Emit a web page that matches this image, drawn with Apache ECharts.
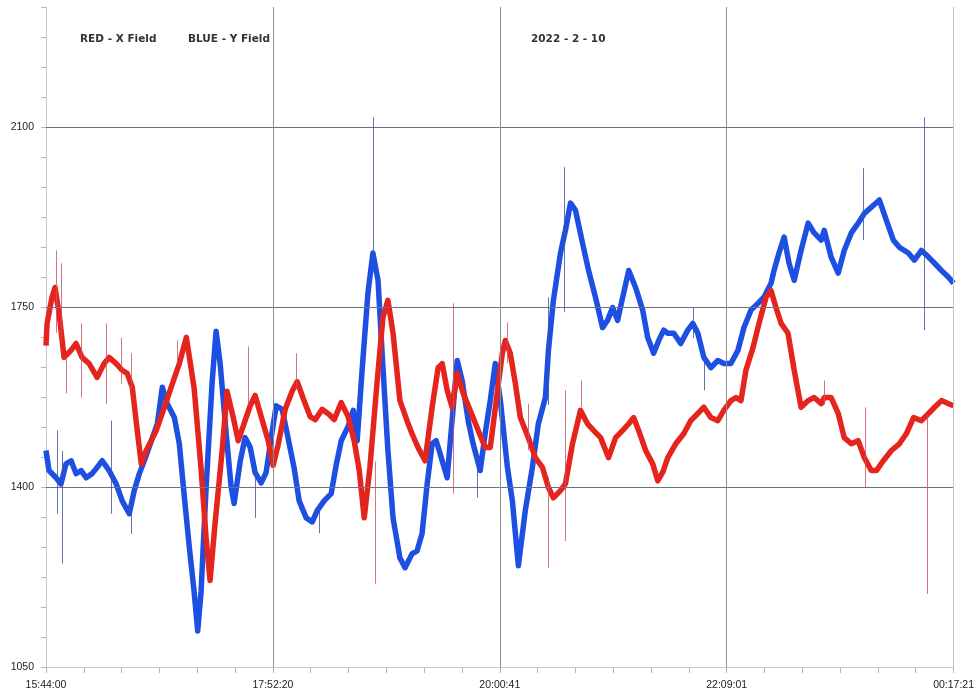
<!DOCTYPE html>
<html>
<head>
<meta charset="utf-8">
<script src="https://cdn.jsdelivr.net/npm/echarts@6/dist/echarts.min.js"></script>
<style>
  html, body { margin: 0; padding: 0; background: #ffffff; }
  #chart { width: 977px; height: 694px; }
</style>
</head>
<body>
<div id="chart"></div>
<script>
// Magnetometer record, 2022-2-10, 15:44:00 -> 00:17:21 next day
const startSeconds = 15 * 3600 + 44 * 60;
const spanSeconds = 30801;
const xTickLabels = ['15:44:00', '17:52:20', '20:00:41', '22:09:01', '00:17:21'];
const yTickLabels = [1050, 1400, 1750, 2100];
const yStep = 350;
const yMinorPerMajor = 6;
const yMinorCount = 22;
const xMinorPerMajor = 6;
const gridValues = [1400, 1750, 2100];

// [minutes after 15:44:00, field value]
const xField = [
  [0,1675],[0.6,1718],[3.4,1769],[5.1,1788],[7.4,1738],[10.2,1652],[14.2,1666],[17.0,1679],
  [20.4,1652],[24.4,1640],[28.9,1613],[32.9,1640],[35.7,1652],[39.7,1640],[43.1,1627],[45.9,1621],
  [48.8,1594],[51.6,1510],[53.9,1445],[56.7,1471],[62.4,1510],[66.9,1555],[71.5,1601],[75.4,1640],
  [79.4,1691],[83.8,1592],[87.7,1436],[90.6,1299],[92.8,1218],[95.7,1332],[99.6,1469],[102.4,1586],
  [105.8,1537],[108.7,1490],[111.5,1518],[115.5,1558],[118.3,1578],[121.7,1537],[125.7,1490],[128.5,1442],
  [131.3,1482],[135.3,1551],[139.2,1586],[142.1,1605],[145.5,1572],[149.4,1537],[152.3,1531],[156.2,1551],
  [160.2,1541],[163.0,1531],[167.0,1564],[170.9,1537],[174.3,1490],[177.2,1432],[180.0,1340],[183.2,1438],
  [187.2,1601],[190.6,1730],[193.4,1763],[196.3,1699],[200.2,1568],[204.2,1529],[207.0,1504],[210.4,1477],
  [214.4,1451],[218.4,1555],[221.8,1632],[224.1,1640],[226.9,1588],[229.7,1555],[232.6,1621],[236.0,1582],
  [239.9,1549],[244.5,1510],[248.4,1477],[251.3,1477],[255.2,1582],[258.1,1660],[259.8,1685],[262.6,1660],
  [265.5,1601],[268.3,1535],[272.8,1496],[276.8,1457],[280.8,1438],[284.2,1399],[287.0,1379],[291.0,1393],
  [293.8,1406],[297.8,1484],[302.3,1549],[306.3,1523],[309.7,1510],[313.7,1496],[318.2,1457],[322.2,1496],
  [326.2,1510],[329.6,1523],[332.4,1535],[335.2,1510],[339.2,1471],[343.2,1445],[346.0,1412],[349.0,1430],
  [351.7,1457],[356.2,1484],[360.8,1504],[364.7,1529],[368.7,1543],[372.1,1555],[376.1,1535],[380.0,1529],
  [383.4,1549],[387.4,1568],[390.3,1574],[393.1,1568],[395.9,1627],[399.9,1671],[403.3,1718],[407.3,1769],
  [410.1,1782],[412.9,1749],[415.8,1718],[419.7,1699],[423.2,1627],[427.1,1555],[431.1,1568],[434.5,1574],
  [438.5,1562],[440.2,1574],[444.1,1574],[448.1,1543],[451.5,1496],[455.5,1484],[459.4,1490],[462.9,1457],
  [466.8,1432],[469.7,1432],[473.6,1451],[478.2,1471],[482.7,1484],[486.7,1504],[490.7,1535],[495.2,1529],
  [499.2,1543],[502.6,1555],[506.5,1568],[510.5,1562],[513.35,1558]
];

const yField = [
  [0,1471],[1.7,1432],[5.7,1418],[8.5,1406],[11.3,1445],[14.2,1451],[17.0,1426],[19.9,1432],
  [22.7,1418],[26.1,1426],[28.9,1438],[31.8,1451],[35.7,1432],[39.7,1406],[43.1,1373],[47.1,1348],
  [49.9,1393],[52.8,1426],[55.6,1451],[59.6,1490],[63.0,1523],[65.8,1594],[68.6,1562],[72.6,1535],
  [75.4,1484],[78.3,1379],[81.1,1282],[83.8,1196],[85.8,1120],[87.7,1196],[90.6,1401],[94.0,1605],
  [96.2,1703],[98.5,1640],[101.9,1504],[104.7,1401],[106.4,1368],[109.8,1449],[112.6,1496],[115.5,1477],
  [118.3,1428],[121.7,1408],[124.5,1428],[127.4,1496],[130.2,1558],[133.6,1551],[136.4,1504],[140.4,1436],
  [143.2,1373],[147.2,1340],[150.6,1332],[153.4,1354],[157.3,1373],[161.3,1387],[164.1,1442],[167.0,1490],
  [170.9,1518],[173.8,1549],[176.0,1490],[178.9,1632],[182.1,1777],[184.9,1855],[187.8,1802],[190.6,1632],
  [193.4,1471],[196.3,1340],[200.2,1262],[203.1,1243],[207.0,1270],[209.9,1276],[212.7,1309],[215.6,1406],
  [218.4,1484],[220.7,1490],[222.9,1465],[226.9,1418],[229.7,1529],[232.6,1646],[235.4,1607],[238.8,1529],
  [241.6,1484],[245.6,1432],[248.4,1504],[251.3,1568],[254.1,1640],[257.0,1568],[261.0,1438],[263.8,1373],
  [267.2,1247],[271.1,1354],[275.1,1438],[278.5,1523],[282.5,1574],[284.2,1666],[287.0,1763],[291.0,1855],
  [293.8,1899],[296.7,1952],[299.5,1938],[303.5,1874],[306.9,1821],[310.8,1769],[314.8,1710],[317.6,1724],
  [320.5,1749],[323.3,1724],[326.2,1769],[329.6,1821],[333.5,1788],[337.5,1744],[340.3,1691],[343.7,1660],
  [346.6,1685],[349.4,1705],[351.7,1699],[355.1,1699],[359.0,1679],[363.0,1705],[365.9,1718],[368.7,1699],
  [372.1,1652],[376.1,1632],[380.0,1646],[383.4,1640],[387.4,1640],[391.4,1666],[394.8,1710],[398.8,1744],
  [402.7,1757],[406.1,1769],[410.1,1796],[411.8,1821],[414.6,1855],[417.5,1886],[420.3,1835],[423.2,1802],
  [427.1,1860],[431.1,1913],[434.5,1894],[438.5,1880],[440.2,1899],[444.1,1847],[448.1,1816],[451.5,1860],
  [455.5,1894],[459.4,1913],[462.9,1932],[466.8,1944],[471.4,1958],[475.3,1919],[479.3,1880],[482.7,1866],
  [487.8,1855],[491.2,1841],[495.2,1860],[499.2,1847],[502.6,1835],[506.5,1821],[510.5,1808],[513.35,1796]
];

// Short transients: [minutes, low, high]
const xSpikes = [
  [5.7,1700,1860],[8.5,1680,1835],[11.3,1582,1650],[19.9,1574,1718],[34.0,1562,1718],[42.5,1600,1690],
  [48.2,1590,1660],[74.3,1640,1685],[114.6,1560,1673],[141.8,1590,1660],[186.1,1212,1450],[230.2,1387,1757],
  [261.0,1640,1720],[272.8,1471,1562],[284.2,1243,1420],[293.8,1295,1588],[302.9,1555,1607],[440.2,1560,1607],
  [463.5,1399,1555],[498.6,1192,1540]
];
const ySpikes = [
  [6.2,1348,1510],[9.1,1251,1470],[36.9,1348,1529],[48.2,1309,1380],[118.3,1340,1430],[154.8,1310,1360],
  [184.9,1850,2119],[243.9,1379,1465],[284.0,1560,1769],[293.2,1740,2022],[365.9,1690,1750],[372.1,1588,1652],
  [462.3,1880,2020],[496.9,1705,2119]
];

const toSeconds = pts => pts.map(p => [p[0] * 60, p[1]]);
const spikeLines = list => list.map(s => [{ coord: [s[0] * 60, s[1]] }, { coord: [s[0] * 60, s[2]] }]);

const xInterval = spanSeconds / ((xTickLabels.length - 1) * xMinorPerMajor);
const yInterval = yStep / yMinorPerMajor;
const yMax = yTickLabels[0] + yMinorCount * yInterval;

const chart = echarts.init(document.getElementById('chart'), null, { renderer: 'canvas' });
chart.setOption({
  animation: false,
  backgroundColor: '#ffffff',
  grid: { left: 46, right: 23, top: 7, bottom: 27 },
  xAxis: {
    type: 'value', min: 0, max: spanSeconds, interval: xInterval,
    axisLine: { lineStyle: { color: '#c8c8c8', width: 1 } },
    axisTick: { length: 6, lineStyle: { color: '#b5b5b5' } },
    splitLine: { show: false },
    axisLabel: {
      margin: 13, fontSize: 10.5, color: '#222', fontFamily: 'Liberation Sans',
      formatter: v => {
        const k = v / (xInterval * xMinorPerMajor);
        const i = Math.round(k);
        return Math.abs(k - i) < 1e-6 ? xTickLabels[i] : '';
      }
    }
  },
  yAxis: {
    type: 'value', min: yTickLabels[0], max: yMax, interval: yInterval,
    axisLine: { show: true, lineStyle: { color: '#c8c8c8', width: 1 } },
    axisTick: { show: true, length: 5, lineStyle: { color: '#b5b5b5' } },
    splitLine: { show: false },
    axisLabel: {
      margin: 12, fontSize: 10.5, color: '#222', fontFamily: 'Liberation Sans',
      formatter: v => {
        const k = (v - yTickLabels[0]) / yStep;
        const i = Math.round(k);
        return Math.abs(k - i) < 1e-6 && i < yTickLabels.length ? String(yTickLabels[i]) : '';
      }
    }
  },
  graphic: [
    { type: 'text', left: 80, top: 34, style: { text: 'RED - X Field', font: 'bold 10.5px "DejaVu Sans"', fill: '#333' } },
    { type: 'text', left: 188, top: 34, style: { text: 'BLUE - Y Field', font: 'bold 10.5px "DejaVu Sans"', fill: '#333' } },
    { type: 'text', left: 531, top: 34, style: { text: '2022 - 2 - 10', font: 'bold 10.5px "DejaVu Sans"', fill: '#333' } }
  ],
  series: [
    {
      name: 'grid', type: 'line', data: [], z: 1, silent: true,
      markLine: {
        silent: true, symbol: 'none', label: { show: false },
        data: gridValues.map(v => ({ yAxis: v, lineStyle: { color: '#6c7180', width: 1, type: 'solid' } }))
          .concat(xTickLabels.slice(1).map((_, i) => ({
            xAxis: (i + 1) * xInterval * xMinorPerMajor,
            lineStyle: { color: i === xTickLabels.length - 2 ? '#c4c4c4' : '#8c8c8c', width: 1, type: 'solid' }
          })))
      }
    },
    {
      name: 'BLUE - Y Field', type: 'line', data: toSeconds(yField), z: 3,
      showSymbol: false, sampling: false,
      lineStyle: { color: '#1d4fe3', width: 5.5, join: 'round' },
      markLine: {
        silent: true, symbol: 'none', label: { show: false },
        lineStyle: { color: 'rgba(60,80,165,0.8)', width: 1, type: 'solid' },
        data: spikeLines(ySpikes)
      }
    },
    {
      name: 'RED - X Field', type: 'line', data: toSeconds(xField), z: 4,
      showSymbol: false, sampling: false,
      lineStyle: { color: '#e6241e', width: 5.5, join: 'round' },
      markLine: {
        silent: true, symbol: 'none', label: { show: false },
        lineStyle: { color: 'rgba(205,80,100,0.8)', width: 1, type: 'solid' },
        data: spikeLines(xSpikes)
      }
    }
  ]
});
</script>
</body>
</html>
